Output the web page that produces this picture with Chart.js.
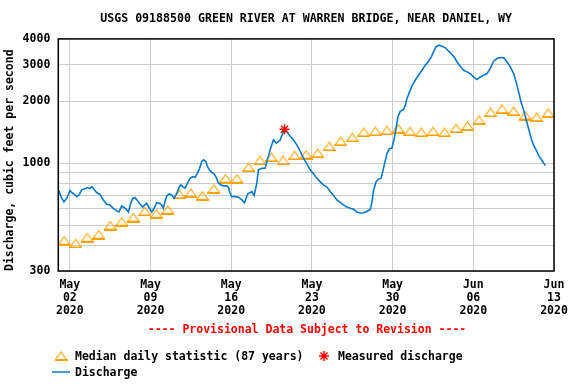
<!DOCTYPE html>
<html>
<head>
<meta charset="utf-8">
<script src="https://cdn.jsdelivr.net/npm/chart.js@4.4.1/dist/chart.umd.min.js"></script>
<style>
  html, body { margin: 0; padding: 0; background: #fff; }
</style>
</head>
<body>
<canvas id="hydrograph" width="576" height="384"></canvas>
<script>
// x values are days since 2020-05-01 00:00
const tickDays = [1, 8, 15, 22, 29, 36, 43];
const tickLabels = [
  ["May", "02", "2020"],
  ["May", "09", "2020"],
  ["May", "16", "2020"],
  ["May", "23", "2020"],
  ["May", "30", "2020"],
  ["Jun", "06", "2020"],
  ["Jun", "13", "2020"],
];
const yTicks = [300, 400, 500, 600, 700, 800, 900, 1000, 2000, 3000, 4000];
const yLabeled = [300, 1000, 2000, 3000, 4000];

/* ====  Discharge (cfs)  ======== */
const dischargeDay = [
  0.06, 0.23, 0.49, 0.73, 1.02, 1.16, 1.36, 1.60, 1.80, 2.03, 2.32, 2.52, 2.75, 2.93,
  3.13, 3.33, 3.62, 3.91, 4.20, 4.49, 4.77, 5.07, 5.27, 5.50, 5.64, 5.88, 6.08, 6.28,
  6.46, 6.66, 6.86, 7.09, 7.32, 7.53, 7.67, 7.90, 8.11, 8.31, 8.54, 8.77, 8.97, 9.11,
  9.26, 9.41, 9.61, 9.84, 10.04, 10.28, 10.48, 10.63, 10.80, 11.00, 11.20, 11.43, 11.67,
  11.87, 12.07, 12.24, 12.45, 12.59, 12.80, 12.93, 13.11, 13.32, 13.52, 13.69, 13.89,
  14.12, 14.32, 14.62, 14.76, 14.90, 15.05, 15.34, 15.63, 15.92, 16.15, 16.42, 16.79,
  16.99, 17.22, 17.36, 17.66, 17.94, 18.14, 18.38, 18.66, 18.90, 19.07, 19.24, 19.53,
  19.83, 20.11, 20.40, 20.69, 20.98, 21.27, 21.56, 21.85, 22.14, 22.43, 22.72, 23.00,
  23.30, 23.59, 23.87, 24.17, 24.45, 24.74, 25.03, 25.32, 25.61, 25.90, 26.19, 26.48,
  26.77, 27.06, 27.20, 27.34, 27.55, 27.78, 28.01, 28.13, 28.30, 28.51, 28.71, 28.94,
  29.14, 29.29, 29.46, 29.66, 29.95, 30.10, 30.24, 30.47, 30.68, 30.96, 31.25, 31.55,
  31.83, 32.12, 32.35, 32.55, 32.76, 32.99, 33.28, 33.57, 33.85, 34.15, 34.43, 34.58,
  34.87, 35.16, 35.45, 35.74, 36.02, 36.32, 36.60, 36.89, 37.19, 37.47, 37.76, 38.06,
  38.34, 38.63, 38.92, 39.21, 39.50, 39.71, 39.93, 40.14, 40.37, 40.60, 40.80, 41.03,
  41.23, 41.47, 41.67, 41.96, 42.25,
];
const dischargeCfs = [
  734, 688, 648, 676, 736, 720, 709, 688, 701, 742, 752, 761, 752, 769,
  742, 720, 705, 663, 632, 627, 604, 587, 580, 620, 613, 598, 580, 639,
  676, 680, 658, 634, 613, 630, 639, 604, 580, 604, 643, 639, 627, 604,
  651, 693, 709, 701, 676, 714, 764, 784, 769, 756, 799, 845, 861,
  854, 894, 938, 1018, 1037, 1018, 963, 928, 900, 887, 855, 799,
  784, 776, 776, 765, 714, 688, 688, 684, 663, 643, 709, 728,
  696, 800, 928, 944, 944, 1037, 1161, 1298, 1251, 1270, 1290, 1424,
  1424, 1350, 1298, 1227, 1142, 1056, 992, 928, 887, 845, 811, 784,
  765, 728, 697, 663, 645, 627, 613, 604, 598, 580, 573, 575,
  583, 596, 645, 734, 808, 837, 845, 904, 992, 1109, 1174, 1183,
  1313, 1467, 1673, 1782, 1822, 1905, 2054, 2215, 2368, 2521, 2666, 2820,
  2981, 3118, 3274, 3464, 3663, 3730, 3688, 3623, 3488, 3360, 3214, 3097,
  2948, 2820, 2770, 2717, 2617, 2541, 2617, 2666, 2717, 2874, 3118, 3214,
  3250, 3240, 3097, 2928, 2717, 2476, 2215, 1979, 1802, 1610, 1467, 1313,
  1218, 1152, 1088, 1029, 973,
];

/* ====  Median daily statistic (87 years)  ======== */
const medianDay = [
  0.5, 1.5, 2.5, 3.5, 4.5, 5.5, 6.5, 7.5, 8.5, 9.5, 10.5, 11.5, 12.5, 13.5, 14.5,
  15.5, 16.5, 17.5, 18.5, 19.5, 20.5, 21.5, 22.5, 23.5, 24.5, 25.5, 26.5, 27.5, 28.5,
  29.5, 30.5, 31.5, 32.5, 33.5, 34.5, 35.5, 36.5, 37.5, 38.5, 39.5, 40.5, 41.5, 42.5,
];
const medianCfs = [
  421, 408, 435, 450, 498, 520, 545, 583, 568, 594, 706, 716, 695, 750, 840,
  840, 954, 1030, 1067, 1030, 1089, 1100, 1116, 1205, 1275, 1332, 1410, 1425, 1440,
  1468, 1425, 1409, 1425, 1409, 1473, 1512, 1615, 1762, 1826, 1783, 1700, 1670, 1748,
];

/* ====  Measured discharge  ======== */
const measuredDay = [19.62];
const measuredCfs = [1460];

const FONT = "'DejaVu Sans Mono', monospace";
const BLUE = "#0a78c8";
const ORANGE = "#ffa200";

// flat USGS-style triangle used as point style
function makeTriangle() {
  const c = document.createElement("canvas");
  c.width = 13;
  c.height = 10;
  const g = c.getContext("2d");
  g.strokeStyle = ORANGE;
  g.lineWidth = 1.1;
  g.beginPath();
  g.moveTo(1, 8.5);
  g.lineTo(6.5, 1);
  g.lineTo(12, 8.5);
  g.stroke();
  g.fillStyle = ORANGE;
  g.fillRect(0, 8, 13, 2);
  return c;
}
const triangle = makeTriangle();

function pairs(xs, ys) {
  return xs.map((x, i) => ({ x: x, y: ys[i] }));
}

const framePlugin = {
  id: "frame",
  afterDatasetsDraw(chart) {
    const { ctx, chartArea: a } = chart;
    ctx.save();
    ctx.strokeStyle = "#000";
    ctx.lineWidth = 1.5;
    ctx.strokeRect(a.left, a.top, a.right - a.left, a.bottom - a.top);
    ctx.restore();
  },
};

const legendPlugin = {
  id: "usgsLegend",
  afterDraw(chart) {
    const ctx = chart.ctx;
    ctx.save();
    ctx.font = "bold 11.5px " + FONT;
    ctx.textBaseline = "middle";
    ctx.textAlign = "center";
    ctx.fillStyle = "#ff0000";
    ctx.fillText("---- Provisional Data Subject to Revision ----", 307, 330);

    ctx.textAlign = "left";
    ctx.fillStyle = "#000";
    ctx.drawImage(triangle, 61 - 6.5, 356 - 5);
    ctx.fillText("Median daily statistic (87 years)", 75, 357);

    // asterisk
    ctx.strokeStyle = "#ff0000";
    ctx.lineWidth = 1.5;
    ctx.beginPath();
    for (let k = 0; k < 4; k++) {
      const ang = (k * Math.PI) / 4;
      ctx.moveTo(324 - 5 * Math.cos(ang), 356 - 5 * Math.sin(ang));
      ctx.lineTo(324 + 5 * Math.cos(ang), 356 + 5 * Math.sin(ang));
    }
    ctx.stroke();
    ctx.fillText("Measured discharge", 338, 357);

    ctx.strokeStyle = BLUE;
    ctx.lineWidth = 1.5;
    ctx.beginPath();
    ctx.moveTo(52, 372);
    ctx.lineTo(70, 372);
    ctx.stroke();
    ctx.fillText("Discharge", 75, 373);
    ctx.restore();
  },
};

Chart.defaults.font.family = FONT;
Chart.defaults.font.size = 11.5;
Chart.defaults.font.weight = "bold";
Chart.defaults.color = "#000";

new Chart(document.getElementById("hydrograph"), {
  type: "line",
  data: {
    datasets: [
      {
        label: "Measured discharge",
        data: pairs(measuredDay, measuredCfs),
        showLine: false,
        pointStyle: "star",
        pointRadius: 5,
        borderColor: "#ff0000",
        borderWidth: 1.5,
        order: 0,
      },
      {
        label: "Discharge",
        data: pairs(dischargeDay, dischargeCfs),
        borderColor: BLUE,
        borderWidth: 1.6,
        pointRadius: 0,
        tension: 0,
        order: 1,
      },
      {
        label: "Median daily statistic (87 years)",
        data: pairs(medianDay, medianCfs),
        showLine: false,
        pointStyle: triangle,
        pointRadius: 6,
        order: 2,
      },
    ],
  },
  options: {
    responsive: false,
    animation: false,
    devicePixelRatio: 1,
    layout: { padding: { left: 0, right: 0, top: 0, bottom: 66 } },
    plugins: {
      legend: { display: false },
      tooltip: { enabled: false },
      title: {
        display: true,
        fullSize: false,
        text: "USGS 09188500 GREEN RIVER AT WARREN BRIDGE, NEAR DANIEL, WY",
        font: { family: FONT, size: 11.6, weight: "bold", lineHeight: 1.2 },
        color: "#000",
        padding: { top: 12, bottom: 13 },
      },
    },
    scales: {
      x: {
        type: "linear",
        min: 0,
        max: 43,
        afterBuildTicks: (axis) => {
          axis.ticks = tickDays.map((v) => ({ value: v }));
        },
        afterFit: (axis) => {
          axis.height = 47;
          axis.paddingLeft = 0;
          axis.paddingRight = 22;
        },
        ticks: {
          autoSkip: false,
          maxRotation: 0,
          padding: 8,
          font: { family: FONT, size: 11.5, weight: "bold", lineHeight: 1.1 },
          callback: (value, i) => tickLabels[i],
        },
        grid: { color: "#cccccc", lineWidth: 1, drawTicks: false },
        border: { display: false },
      },
      y: {
        type: "logarithmic",
        min: 300,
        max: 4000,
        afterBuildTicks: (axis) => {
          axis.ticks = yTicks.map((v) => ({ value: v }));
        },
        afterFit: (axis) => {
          axis.width = 58.3;
          axis.paddingTop = 0;
          axis.paddingBottom = 0;
        },
        ticks: {
          autoSkip: false,
          padding: 8,
          callback: (value) => (yLabeled.includes(value) ? String(value) : ""),
        },
        grid: { color: "#cccccc", lineWidth: 1, drawTicks: false },
        border: { display: false },
        title: {
          display: true,
          align: "start",
          text: "Discharge, cubic feet per second",
          font: { family: FONT, size: 11.5, weight: "bold", lineHeight: 1.2 },
          padding: { top: 3.5, bottom: 0 },
        },
      },
    },
  },
  plugins: [framePlugin, legendPlugin],
});
</script>
</body>
</html>
